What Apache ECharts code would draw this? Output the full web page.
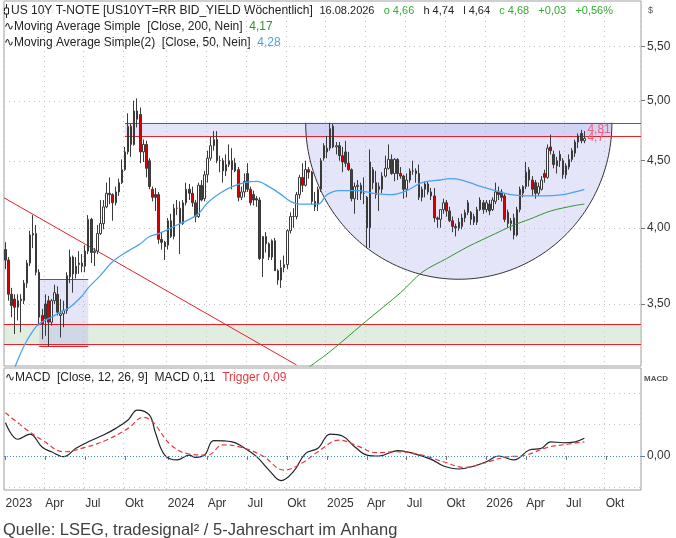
<!DOCTYPE html>
<html>
<head>
<meta charset="utf-8">
<title>US 10Y T-Note</title>
<script src="https://cdn.jsdelivr.net/npm/echarts@6/dist/echarts.min.js"></script>
<style>
  html, body { margin: 0; padding: 0; background: #fff; }
  #chart { width: 676px; height: 538px; }
</style>
</head>
<body>
<div id="chart"></div>
<script>
/* weekly candles from the week of 26.12.2022 on: [open, high, low, close] */
var ohlc = [
  [3.85,3.90,3.72,3.78],[3.78,3.80,3.52,3.56],[3.56,3.60,3.42,3.49],[3.53,3.56,3.32,3.48],
  [3.48,3.56,3.40,3.52],[3.52,3.56,3.33,3.53],[3.52,3.65,3.50,3.63],[3.63,3.78,3.60,3.76],
  [3.76,3.98,3.74,3.95],[3.95,4.09,3.86,3.96],[3.96,4.02,3.68,3.70],[3.70,3.72,3.37,3.42],
  [3.43,3.47,3.29,3.38],[3.50,3.56,3.31,3.41],[3.52,3.55,3.25,3.39],[3.39,3.53,3.37,3.52],
  [3.52,3.62,3.50,3.57],[3.56,3.61,3.43,3.45],[3.43,3.53,3.30,3.44],[3.44,3.52,3.36,3.46],
  [3.46,3.70,3.44,3.68],[3.67,3.85,3.63,3.80],[3.80,3.81,3.57,3.69],[3.69,3.80,3.66,3.74],
  [3.75,3.84,3.69,3.76],[3.76,3.82,3.70,3.74],[3.74,3.88,3.70,3.84],[3.84,4.09,3.82,4.06],
  [4.06,4.07,3.76,3.83],[3.83,3.86,3.74,3.84],[3.84,4.02,3.82,3.96],[3.96,4.20,3.95,4.03],
  [4.03,4.20,3.99,4.15],[4.15,4.33,4.14,4.25],[4.25,4.37,4.17,4.24],[4.24,4.25,4.05,4.18],
  [4.18,4.30,4.16,4.26],[4.26,4.36,4.23,4.33],[4.33,4.51,4.32,4.43],[4.43,4.61,4.42,4.57],
  [4.57,4.89,4.55,4.78],[4.78,4.80,4.53,4.63],[4.63,5.00,4.62,4.91],[4.91,5.02,4.77,4.84],
  [4.88,4.94,4.48,4.57],[4.57,4.67,4.49,4.63],[4.63,4.66,4.37,4.44],[4.50,4.52,4.28,4.30],
  [4.28,4.30,4.19,4.22],[4.24,4.29,4.12,4.22],[4.24,4.26,3.89,3.92],[3.92,3.97,3.85,3.90],
  [3.90,3.91,3.78,3.87],[3.88,4.07,3.85,4.05],[4.05,4.10,3.93,3.94],[3.94,4.17,3.92,4.14],
  [4.14,4.20,4.09,4.14],[4.14,4.19,3.82,4.03],[4.03,4.20,4.02,4.18],[4.18,4.33,4.16,4.28],
  [4.28,4.32,4.20,4.25],[4.25,4.30,4.15,4.18],[4.18,4.20,4.04,4.08],[4.08,4.33,4.07,4.31],
  [4.31,4.35,4.19,4.20],[4.21,4.42,4.19,4.39],[4.39,4.58,4.33,4.52],[4.52,4.69,4.50,4.62],
  [4.62,4.74,4.58,4.67],[4.67,4.74,4.48,4.50],[4.50,4.54,4.41,4.50],[4.50,4.52,4.33,4.42],
  [4.42,4.55,4.38,4.47],[4.47,4.63,4.45,4.50],[4.50,4.60,4.28,4.43],[4.48,4.52,4.41,4.42],
  [4.43,4.45,4.19,4.22],[4.22,4.30,4.20,4.26],[4.26,4.40,4.22,4.34],[4.40,4.48,4.26,4.28],
  [4.28,4.30,4.16,4.18],[4.24,4.27,4.16,4.20],[4.21,4.23,4.15,4.20],[4.20,4.22,3.78,3.79],
  [3.79,3.94,3.67,3.94],[3.94,3.97,3.83,3.89],[3.89,3.90,3.78,3.80],[3.80,3.92,3.78,3.91],
  [3.91,3.93,3.71,3.71],[3.71,3.72,3.62,3.65],[3.65,3.78,3.60,3.73],[3.73,3.81,3.70,3.75],
  [3.75,3.99,3.72,3.98],[3.98,4.11,3.96,4.08],[4.08,4.14,4.00,4.08],[4.08,4.26,4.06,4.24],
  [4.24,4.39,4.21,4.37],[4.37,4.48,4.26,4.31],[4.31,4.50,4.30,4.43],[4.43,4.45,4.36,4.41],
  [4.41,4.42,4.17,4.19],[4.19,4.26,4.12,4.15],[4.17,4.30,4.12,4.28],[4.28,4.52,4.26,4.50],
  [4.52,4.64,4.50,4.62],[4.57,4.70,4.52,4.60],[4.60,4.81,4.58,4.76],[4.78,4.80,4.60,4.61],
  [4.61,4.65,4.55,4.62],[4.62,4.65,4.50,4.54],[4.54,4.61,4.41,4.49],[4.57,4.66,4.45,4.48],
  [4.48,4.57,4.42,4.43],[4.43,4.44,4.19,4.21],[4.21,4.33,4.10,4.30],[4.30,4.35,4.20,4.31],
  [4.31,4.33,4.20,4.25],[4.25,4.37,4.17,4.25],[4.22,4.23,3.86,4.00],[4.00,4.59,3.86,4.49],
  [4.43,4.45,4.28,4.33],[4.33,4.42,4.21,4.24],[4.30,4.33,4.12,4.28],[4.28,4.41,4.25,4.38],
  [4.38,4.54,4.37,4.44],[4.44,4.63,4.43,4.51],[4.51,4.55,4.39,4.40],[4.40,4.52,4.34,4.51],
  [4.51,4.52,4.35,4.40],[4.40,4.45,4.36,4.38],[4.38,4.39,4.21,4.28],[4.28,4.40,4.22,4.35],
  [4.35,4.44,4.33,4.42],[4.42,4.50,4.39,4.42],[4.42,4.44,4.33,4.40],[4.40,4.47,4.20,4.22],
  [4.22,4.30,4.19,4.28],[4.28,4.34,4.22,4.32],[4.32,4.34,4.24,4.26],[4.26,4.29,4.20,4.23],
  [4.23,4.29,4.04,4.07],[4.07,4.08,4.00,4.06],[4.06,4.13,4.00,4.13],[4.13,4.21,4.10,4.18],
  [4.18,4.20,4.08,4.12],[4.12,4.15,4.04,4.05],[4.05,4.08,3.97,4.01],[4.01,4.03,3.94,4.00],
  [4.04,4.07,3.98,4.00],[4.01,4.10,3.99,4.07],[4.07,4.13,4.04,4.11],[4.18,4.20,4.09,4.11],
  [4.11,4.12,4.02,4.06],[4.08,4.10,4.02,4.04],[4.04,4.15,4.02,4.13],[4.13,4.22,4.12,4.20],
  [4.18,4.20,4.10,4.13],[4.13,4.20,4.11,4.18],[4.17,4.20,4.09,4.12],[4.13,4.22,4.12,4.20],
  [4.19,4.33,4.17,4.26],[4.26,4.30,4.20,4.24],[4.26,4.28,4.19,4.22],[4.23,4.25,4.04,4.06],
  [4.11,4.13,4.00,4.03],[4.03,4.07,3.98,4.05],[4.07,4.10,3.92,3.95],[3.95,4.15,3.94,4.13],
  [4.13,4.30,4.11,4.28],[4.25,4.31,4.22,4.30],[4.30,4.49,4.28,4.41],[4.43,4.45,4.30,4.35],
  [4.35,4.38,4.23,4.28],[4.33,4.35,4.21,4.25],[4.25,4.33,4.23,4.30],[4.28,4.38,4.27,4.35],
  [4.40,4.43,4.33,4.37],[4.37,4.63,4.36,4.60],[4.61,4.71,4.55,4.58],[4.55,4.58,4.44,4.47],
  [4.50,4.53,4.40,4.46],[4.55,4.58,4.45,4.50],[4.50,4.52,4.36,4.39],[4.39,4.48,4.36,4.46],
  [4.45,4.55,4.43,4.51],[4.51,4.60,4.49,4.58],[4.56,4.67,4.53,4.65],[4.65,4.72,4.60,4.70],
  [4.72,4.75,4.64,4.66],[4.66,4.74,4.64,4.68]
];

/* moving averages and MACD: [week index, value] */
var ma200 = [
  [98,3.12],[106,3.22],[118,3.40],[129,3.57],[136,3.70],[144,3.79],[151,3.87],
  [160,3.96],[166,4.02],[171,4.06],[178,4.12],[186,4.16],[189,4.17]
];
var ma50 = [
  [3,3.13],[6,3.25],[9,3.34],[11,3.38],[15,3.42],[18,3.45],[21,3.48],[25,3.55],
  [27,3.60],[31,3.68],[35,3.77],[40,3.84],[44,3.89],[47,3.94],[50,3.96],[56,4.02],
  [60,4.06],[63,4.10],[66,4.18],[70,4.25],[74,4.30],[78,4.33],[82,4.34],[86,4.30],
  [90,4.24],[93,4.19],[96,4.17],[102,4.17],[105,4.24],[109,4.27],[115,4.27],[120,4.25],
  [126,4.24],[131,4.27],[136,4.33],[142,4.35],[145,4.36],[149,4.35],[154,4.31],[160,4.27],
  [165,4.24],[171,4.23],[176,4.23],[182,4.24],[186,4.26],[189,4.28]
];
var macd = [
  [0,0.21],[4,0.106],[8,0.139],[12,0.055],[15,0.027],[19,-0.004],[23,0.049],[27,0.09],
  [32,0.133],[36,0.175],[40,0.228],[43,0.291],[47,0.259],[49,0.144],[52,0.006],[56,-0.025],
  [60,0.006],[62,-0.008],[65,0.006],[68,0.097],[74,0.09],[77,0.063],[82,-0.004],[86,-0.089],
  [90,-0.156],[94,-0.099],[98,0.017],[102,0.049],[106,0.139],[110,0.127],[114,0.059],[118,0.006],
  [122,0],[128,0.034],[133,0.017],[139,-0.021],[143,-0.063],[148,-0.082],[153,-0.063],[157,-0.036],
  [161,0],[166,-0.025],[171,0.038],[175,0.049],[178,0.09],[182,0.084],[186,0.09],[189,0.112]
];
var trigger = [
  [0,0.274],[7,0.165],[12,0.101],[19,0.027],[26,0.055],[33,0.101],[40,0.175],[45,0.245],
  [48,0.217],[54,0.07],[60,0.013],[66,0.006],[71,0.07],[77,0.055],[84,0],[91,-0.089],
  [97,-0.042],[102,0.027],[109,0.101],[115,0.063],[121,0.021],[128,0.027],[136,0.006],[143,-0.036],
  [150,-0.072],[156,-0.046],[163,-0.008],[170,0.006],[177,0.055],[184,0.076],[189,0.09]
];

/* ticks */
var priceTicks = [3.5, 4, 4.5, 5, 5.5];
var macdTicks = [0];
var macdGridValues = [-0.2, 0.2, 0.4];
var quarterNames = ['', 'Apr', 'Jul', 'Okt'];

/* drawn levels (week index / yield) */
var resistance = [4.70, 4.81];
var resistanceFrom = 39;
var support = [3.26, 3.38];
var boxZone = [11, 27, 3.25, 3.655];      // from week, to week, low, high
var trendLine = [[0, 4.21], [95, 3.145]];
var bowl = [98, 198, 3.655];              // left week, right week, lowest yield
var labelWeek = 190;

var FIRST_WEEK = Date.UTC(2022, 11, 26);
var WEEK_COUNT = 208;

(function () {
  var FONT = '"Liberation Sans", Arial, sans-serif';
  var RED = '#e8202a';
  var LAVENDER = 'rgba(170,170,235,0.3)';
  var DAY = 864e5;

  // weekly categories, labelled at the week holding the 1st of a quarter
  var weeks = [];
  var quarterLabels = [];
  for (var i = 0; i < WEEK_COUNT; i++) {
    var t = FIRST_WEEK + i * 7 * DAY;
    weeks.push(new Date(t).toISOString().slice(0, 10));
    var lab = '';
    for (var k = 0; k < 7; k++) {
      var d = new Date(t + k * DAY);
      var m = d.getUTCMonth();
      if (d.getUTCDate() === 1 && m % 3 === 0) {
        lab = m === 0 ? String(d.getUTCFullYear()) : quarterNames[m / 3];
      }
    }
    quarterLabels.push(lab);
  }
  function isQuarter(idx) {
    return quarterLabels[idx] !== '';
  }
  function comma(v, digits) {
    return (digits == null ? String(v) : v.toFixed(digits)).replace('.', ',');
  }

  function renderMarks(params, api) {
    var cs = params.coordSys;
    var left = cs.x, right = cs.x + cs.width;
    function at(week, value) { return api.coord([week, value]); }
    function yOf(value) { return api.coord([0, value])[1]; }
    var kids = [];
    function hline(x1, x2, y, stroke, dash) {
      y = Math.round(y) + 0.5;
      kids.push({
        type: 'line',
        shape: { x1: x1, y1: y, x2: x2, y2: y },
        style: { stroke: stroke, lineWidth: 1, lineDash: dash || null }
      });
    }
    function rect(x1, y1, x2, y2, fill) {
      kids.push({
        type: 'rect',
        shape: { x: x1, y: Math.min(y1, y2), width: x2 - x1, height: Math.abs(y2 - y1) },
        style: { fill: fill }
      });
    }

    priceTicks.forEach(function (v) {
      hline(left, right, yOf(v), '#c4c4c4', [1, 4]);
    });

    var s0 = yOf(support[0]), s1 = yOf(support[1]);
    rect(left, s1, right, s0, 'rgba(190,215,190,0.45)');

    var b0 = at(boxZone[0], boxZone[3]), b1 = at(boxZone[1], boxZone[2]);
    rect(b0[0], b0[1], b1[0], b1[1], LAVENDER);

    var r0 = at(resistanceFrom, resistance[1]), r1 = at(bowl[1], resistance[0]);
    rect(r0[0], r0[1], r1[0], r1[1], LAVENDER);

    // half ellipse hanging from the upper resistance line
    var bl = at(bowl[0], resistance[1]), br = at(bowl[1], resistance[1]);
    var cx = (bl[0] + br[0]) / 2, cy = bl[1];
    var rx = (br[0] - bl[0]) / 2, ry = yOf(bowl[2]) - cy;
    var pts = [];
    for (var n = 0; n <= 120; n++) {
      var a = Math.PI * n / 120;
      pts.push([cx + rx * Math.cos(a), cy + ry * Math.sin(a)]);
    }
    kids.push({ type: 'polygon', shape: { points: pts }, style: { fill: LAVENDER } });
    kids.push({ type: 'polyline', shape: { points: pts }, style: { stroke: '#333', lineWidth: 1, fill: null } });

    hline(left, right, s0, RED);
    hline(left, right, s1, RED);
    hline(b0[0], b1[0], b0[1], RED);
    hline(b0[0], b1[0], b1[1], RED);
    hline(r0[0], right, yOf(resistance[0]), RED);
    hline(r0[0], right, yOf(resistance[1]), RED);

    var p0 = at(trendLine[0][0], trendLine[0][1]);
    var p1 = at(trendLine[1][0], trendLine[1][1]);
    var slope = (p1[1] - p0[1]) / (p1[0] - p0[0]);
    kids.push({
      type: 'line',
      shape: { x1: left, y1: p0[1] + slope * (left - p0[0]), x2: p1[0], y2: p1[1] },
      style: { stroke: RED, lineWidth: 1 }
    });

    var lx = at(labelWeek, resistance[1])[0];
    kids.push({
      type: 'text',
      style: { text: comma(resistance[1]), x: lx, y: yOf(resistance[1]) + 1, fill: '#f0607a',
        fontSize: 12, fontFamily: FONT, align: 'left', verticalAlign: 'top' }
    });
    kids.push({
      type: 'text',
      style: { text: comma(resistance[0]), x: lx, y: yOf(resistance[0]) + 2, fill: '#f0607a',
        fontSize: 12, fontFamily: FONT, align: 'left', verticalAlign: 'middle' }
    });
    return { type: 'group', children: kids };
  }

  var dotted = { show: true, interval: isQuarter, lineStyle: { color: '#c4c4c4', type: [1, 4], width: 1 } };
  var gridStyle = { show: true, borderColor: '#a0a0a0', borderWidth: 1, backgroundColor: 'transparent' };

  function txt(x, y, text, size, extra) {
    var style = { text: text, x: x, y: y, fill: '#222', fontSize: size, fontFamily: FONT, verticalAlign: 'middle' };
    for (var key in (extra || {})) style[key] = extra[key];
    return { type: 'text', silent: true, style: style };
  }

  var option = {
    animation: false,
    backgroundColor: '#ffffff',
    textStyle: { fontFamily: FONT },
    grid: [
      Object.assign({ left: 4, right: 35, top: 1, height: 365, outerBoundsMode: 'none' }, gridStyle),
      Object.assign({ left: 4, right: 35, top: 368, height: 122, outerBoundsMode: 'none' }, gridStyle)
    ],
    xAxis: [
      {
        type: 'category', gridIndex: 0, data: weeks, boundaryGap: true,
        axisLine: { show: false }, axisTick: { show: false }, axisLabel: { show: false },
        splitLine: dotted
      },
      {
        type: 'category', gridIndex: 1, data: weeks, boundaryGap: true,
        axisLine: { show: false },
        axisTick: { show: true, interval: isQuarter, alignWithLabel: true, length: 4, lineStyle: { color: '#777' } },
        axisLabel: {
          interval: isQuarter, align: 'left', margin: 8, fontSize: 12, color: '#333', fontFamily: FONT,
          formatter: function (v, idx) { return quarterLabels[idx]; }
        },
        splitLine: dotted
      }
    ],
    yAxis: [
      {
        type: 'log', logBase: 10, gridIndex: 0, position: 'right', min: 3.139, max: 5.955,
        axisLine: { show: false },
        axisTick: { show: true, customValues: priceTicks, length: 4, lineStyle: { color: '#777' } },
        axisLabel: {
          customValues: priceTicks, margin: 6, fontSize: 12, color: '#333', fontFamily: FONT,
          formatter: function (v) { return comma(v, 2); }
        },
        splitLine: { show: false }
      },
      {
        type: 'value', gridIndex: 1, position: 'right', min: -0.215, max: 0.557,
        axisLine: { show: false },
        axisTick: { show: true, customValues: macdTicks, length: 4, lineStyle: { color: '#777' } },
        axisLabel: {
          customValues: macdTicks, margin: 6, fontSize: 12, color: '#333', fontFamily: FONT,
          formatter: function (v) { return comma(Math.abs(v), 2); }
        },
        splitLine: { show: false }
      }
    ],
    series: [
      {
        type: 'custom', name: 'marks', xAxisIndex: 0, yAxisIndex: 0, z: 1, silent: true,
        data: [[0, 4]], renderItem: renderMarks
      },
      {
        type: 'candlestick', name: 'US10Y', xAxisIndex: 0, yAxisIndex: 0, z: 2,
        barWidth: '66%',
        data: ohlc.map(function (r) { return [r[0], r[3], r[2], r[1]]; }),
        itemStyle: { color: '#ffffff', color0: '#d80000', borderColor: '#3a3a3a', borderColor0: '#3a3a3a', borderWidth: 1 }
      },
      {
        type: 'line', name: 'MA200', xAxisIndex: 0, yAxisIndex: 0, z: 3, data: ma200,
        showSymbol: false, smooth: 0.3, lineStyle: { color: '#2c962c', width: 1 }
      },
      {
        type: 'line', name: 'MA50', xAxisIndex: 0, yAxisIndex: 0, z: 3, data: ma50,
        showSymbol: false, smooth: 0.4, lineStyle: { color: '#4aa3ef', width: 1.3 }
      },
      {
        type: 'line', name: 'MACD', xAxisIndex: 1, yAxisIndex: 1, z: 3, data: macd,
        showSymbol: false, smooth: 0.4, lineStyle: { color: '#222', width: 1.2 },
        markLine: {
          silent: true, symbol: 'none', label: { show: false },
          data: macdGridValues.map(function (v) {
            return { yAxis: v, lineStyle: { color: '#c4c4c4', type: [1, 4], width: 1 } };
          }).concat([{ yAxis: 0, lineStyle: { color: '#3d8ff0', type: [1, 2], width: 1 } }])
        }
      },
      {
        type: 'line', name: 'Trigger', xAxisIndex: 1, yAxisIndex: 1, z: 3, data: trigger,
        showSymbol: false, smooth: 0.4, lineStyle: { color: '#e8383d', width: 1.2, type: [5, 3] }
      }
    ],
    graphic: [
      { type: 'line', silent: true, shape: { x1: 6.5, y1: 4, x2: 6.5, y2: 18 }, style: { stroke: '#222', lineWidth: 1 } },
      { type: 'rect', silent: true, shape: { x: 4.5, y: 8, width: 4, height: 6 }, style: { fill: '#fff', stroke: '#222', lineWidth: 1 } },
      txt(11, 11, 'US 10Y T-NOTE [US10YT=RR BID_YIELD Wöchentlich]  {n|16.08.2026   }{g|o 4,66}{n|   h 4,74   l 4,64   }{g|c 4,68   +0,03   +0,56%}', 12,
        { rich: {
          n: { fill: '#222', fontSize: 11, fontFamily: FONT },
          g: { fill: '#2fb02f', fontSize: 11, fontFamily: FONT }
        } }),
      txt(4, 27, '\u223FMoving Average Simple  [Close, 200, Nein]  {g|4,17}', 12,
        { rich: { g: { fill: '#2c962c', fontSize: 12, fontFamily: FONT } } }),
      txt(4, 43, '\u223FMoving Average Simple(2)  [Close, 50, Nein]  {b|4,28}', 12,
        { rich: { b: { fill: '#4aa3ef', fontSize: 12, fontFamily: FONT } } }),
      txt(648, 11, '$', 9, { fill: '#555' }),
      txt(5, 378, '\u223FMACD  [Close, 12, 26, 9]  MACD 0,11  {r|Trigger 0,09}', 12,
        { rich: { r: { fill: '#e8383d', fontSize: 12, fontFamily: FONT } } }),
      txt(644, 379, 'MACD', 8, { fill: '#555', fontWeight: 'bold' }),
      txt(3, 530, 'Quelle: LSEG, tradesignal\u00B2 / 5-Jahreschart im Anhang', 16.5, { fill: '#404040' })
    ]
  };

  var chart = echarts.init(document.getElementById('chart'), null, { renderer: 'canvas' });
  chart.setOption(option);
})();
</script>
</body>
</html>
